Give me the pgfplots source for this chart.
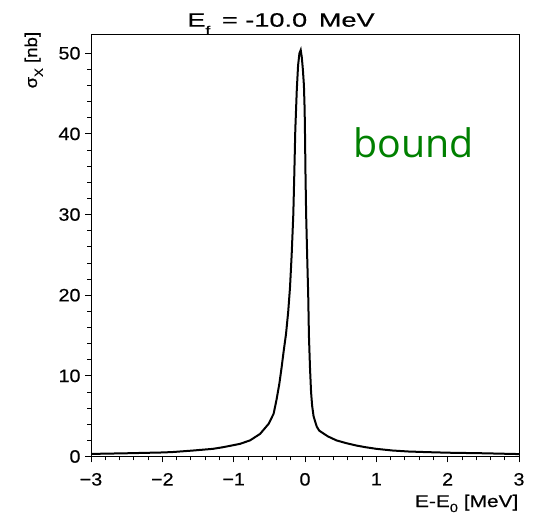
\documentclass[border=0pt]{standalone}
\usepackage{pgfplots}
\pgfplotsset{compat=1.18}
\usepackage{fontspec}
\setmainfont{Liberation Sans}
\newfontfamily\rootfont[FakeStretch=1.1,FakeBold=0.4]{Liberation Sans}
\newfontfamily\boundfont{Open Sans}
\definecolor{rootgreen}{RGB}{0,128,0}
\pgfplotstableread{
x y
-3.0 0.32
-2.5 0.40
-2.0 0.50
-1.86 0.55
-1.57 0.74
-1.29 0.95
-1.15 1.15
-0.91 1.57
-0.77 2.0
-0.63 2.8
-0.51 4.05
-0.44 5.3
-0.40 7.0
-0.36 9.0
-0.327 11.1
-0.30 13.0
-0.266 15.2
-0.235 18.0
-0.21 21.0
-0.187 25.0
-0.164 30.0
-0.15 35.0
-0.136 40.5
-0.115 45.5
-0.097 48.5
-0.078 50.0
-0.06 50.4
-0.045 49.5
-0.03 48.0
-0.015 46.0
-0.005 43.0
0.0 40.0
0.007 35.0
0.016 30.0
0.03 25.0
0.045 20.0
0.055 15.0
0.07 11.0
0.085 8.0
0.10 6.3
0.12 5.0
0.14 4.4
0.165 3.7
0.20 3.2
0.26 2.85
0.32 2.5
0.44 2.0
0.58 1.65
0.72 1.36
0.85 1.15
1.0 0.95
1.23 0.74
1.45 0.62
1.68 0.55
2.0 0.47
2.5 0.40
3.0 0.30
}\datatable
\begin{document}
\begin{tikzpicture}[x=1bp,y=1bp]
\begin{axis}[
  at={(91bp,57.5bp)}, anchor=south west,
  scale only axis, width=428bp, height=421.8bp,
  xmin=-3, xmax=3, ymin=0, ymax=52.3,
  xtick={-3,-2,-1,0,1,2,3},
  xticklabels={−3,−2,−1,0,1,2,3},
  minor x tick num=4,
  ytick={0,10,20,30,40,50},
  minor y tick num=4,
  tick align=outside,
  major tick length=6bp, minor tick length=4bp,
  xtick pos=bottom, ytick pos=left,
  axis line style={line width=0.8pt},
  every tick/.style={black, line width=0.8pt},
  /pgf/number format/assume math mode=true,
  ticklabel style={font=\rootfont\fontsize{18}{20}\selectfont},
  xticklabel style={yshift=-7bp},
  yticklabel style={xshift=-1bp},
]
\addplot[black, line width=2bp, sharp plot] table[x=x,y=y] {\datatable};
\end{axis}
\node[anchor=base, inner sep=0pt, font=\rootfont\fontsize{19.5}{21}\selectfont] at (281bp,487.3bp)
  {\scalebox{1.27}[1]{E\raisebox{-0.42em}{\fontsize{12.5}{12}\selectfont f} \,= -10.0 \,MeV}};
\node[anchor=base east, inner sep=0pt, font=\rootfont\fontsize{17}{19}\selectfont] at (518.5bp,7bp)
  {\scalebox{1.12}[1]{E-E\raisebox{-0.3em}{\fontsize{12}{12}\selectfont 0} [MeV]}};
\node[anchor=base east, inner sep=0pt, rotate=90, font=\rootfont\fontsize{17}{19}\selectfont] at (37bp,482.3bp)
  {σ\raisebox{-0.35em}{\fontsize{12}{12}\selectfont X} [nb]};
\node[anchor=base west, inner sep=0pt, text=rootgreen, font=\boundfont\fontsize{39.5}{40}\selectfont] at (353.3bp,356.3bp) {bound};
\pgfresetboundingbox
\useasboundingbox (0,0) rectangle (534bp,514bp);
\end{tikzpicture}
\end{document}
